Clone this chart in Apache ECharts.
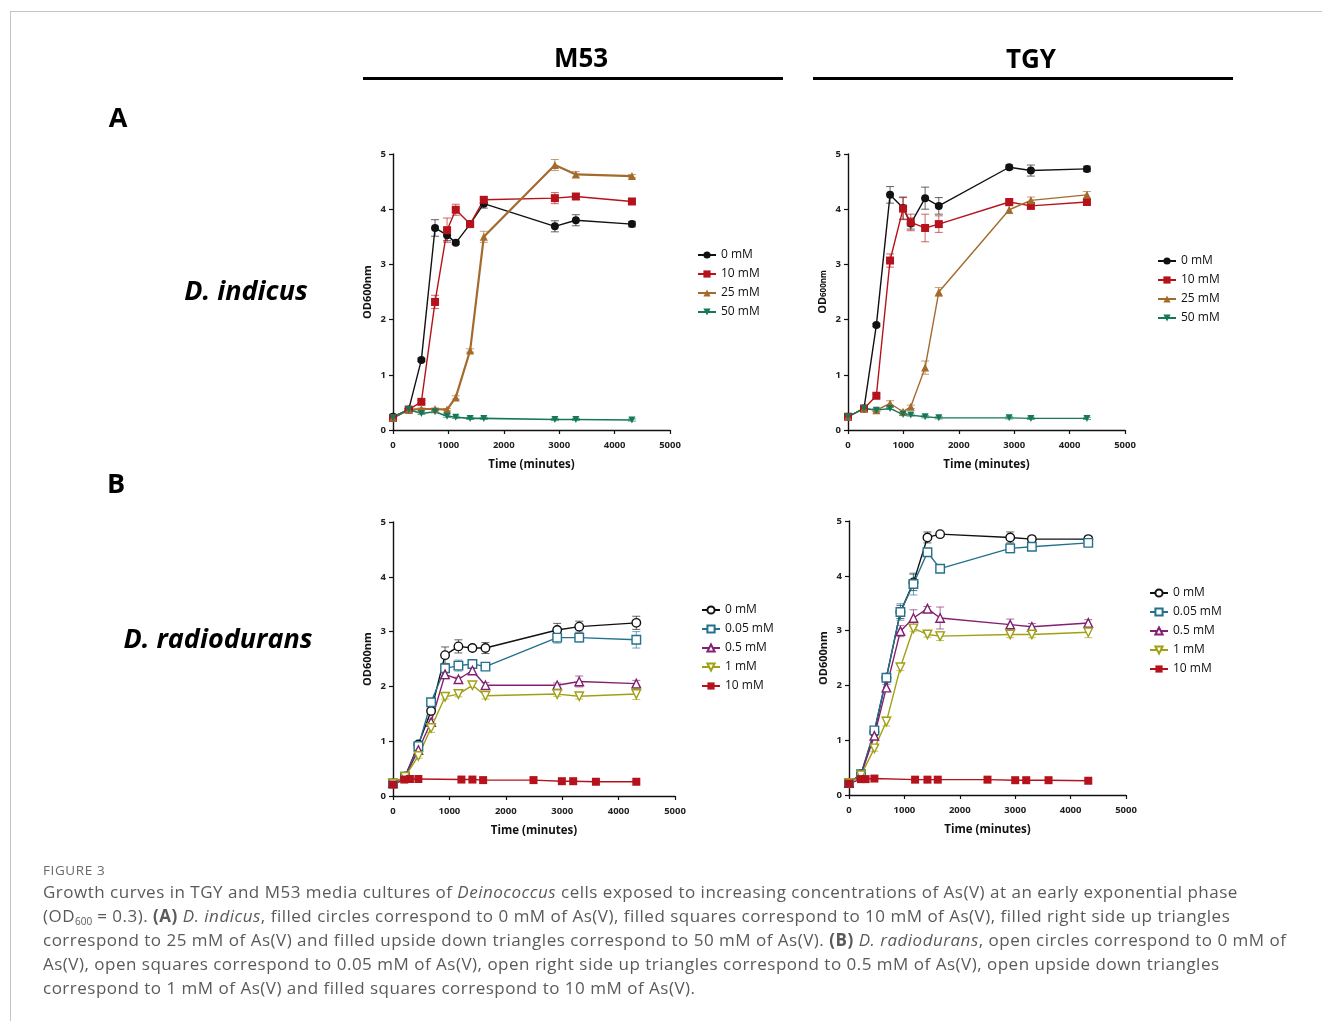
<!DOCTYPE html>
<html>
<head>
<meta charset="utf-8">
<script src="https://cdn.jsdelivr.net/npm/echarts@6/dist/echarts.min.js"></script>
<style>
  html, body { margin: 0; padding: 0; background: #fff; }
  #wrap { position: relative; width: 1322px; height: 1021px; overflow: hidden; }
  #chart { position: absolute; left: 0; top: 0; width: 1322px; height: 1021px; }
  #frameTop { position: absolute; left: 10px; top: 11px; width: 1312px; height: 0; border-top: 1px solid #c4c4c4; }
  #frameLeft { position: absolute; left: 10px; top: 11px; width: 0; height: 1010px; border-left: 1px solid #c4c4c4; }
  #cap { position: absolute; left: 43px; top: 860px; font-family: "Open Sans", sans-serif; color: #5a5a5a; }
  #cap .fig { font-size: 13.5px; letter-spacing: 0.6px; color: #6a6a6a; line-height: 20px; }
  #cap .ln { font-size: 17px; line-height: 24px; white-space: nowrap; letter-spacing: 0.5px; }
  #cap sub { font-size: 10px; vertical-align: -3px; line-height: 0; letter-spacing: 0; }
</style>
</head>
<body>
<div id="wrap">
  <div id="chart"></div>
  <div id="frameTop"></div>
  <div id="frameLeft"></div>
  <div id="cap">
    <div class="fig">FIGURE 3</div>
    <div class="ln">Growth curves in TGY and M53 media cultures of <i>Deinococcus</i> cells exposed to increasing concentrations of As(V) at an early exponential phase</div>
    <div class="ln">(OD<sub>600</sub> = 0.3). <b>(A)</b> <i>D. indicus</i>, filled circles correspond to 0 mM of As(V), filled squares correspond to 10 mM of As(V), filled right side up triangles</div>
    <div class="ln">correspond to 25 mM of As(V) and filled upside down triangles correspond to 50 mM of As(V). <b>(B)</b> <i>D. radiodurans</i>, open circles correspond to 0 mM of</div>
    <div class="ln">As(V), open squares correspond to 0.05 mM of As(V), open right side up triangles correspond to 0.5 mM of As(V), open upside down triangles</div>
    <div class="ln">correspond to 1 mM of As(V) and filled squares correspond to 10 mM of As(V).</div>
  </div>
</div>
<script>
// ---------------- DATA ----------------
// Panel A, D. indicus, M53 medium
const timeIndM53 = [0, 283, 512, 759, 976, 1133, 1392, 1639, 2922, 3301, 4313];
const indM53_0mM  = [0.24, 0.37, 1.27, 3.66, 3.53, 3.39, 3.73, 4.10, 3.69, 3.80, 3.73];
const indM53_10mM = [0.22, 0.37, 0.51, 2.32, 3.62, 3.99, 3.73, 4.17, 4.20, 4.23, 4.14];
const indM53_25mM = [0.22, 0.37, 0.38, 0.38, 0.37, 0.59, 1.44, 3.50, 4.80, 4.63, 4.60];
const indM53_50mM = [0.22, 0.37, 0.30, 0.33, 0.25, 0.23, 0.21, 0.21, 0.19, 0.19, 0.18];
const indM53_0mM_err  = [0.02, 0.02, 0.03, 0.15, 0.10, 0.03, 0.04, 0.08, 0.10, 0.10, 0.05];
const indM53_10mM_err = [0.02, 0.02, 0.03, 0.12, 0.22, 0.10, 0.04, 0.05, 0.10, 0.05, 0.04];
const indM53_25mM_err = [0.02, 0.02, 0.02, 0.02, 0.02, 0.03, 0.03, 0.10, 0.10, 0.05, 0.03];
const indM53_50mM_err = [0.02, 0.02, 0.02, 0.02, 0.02, 0.02, 0.02, 0.02, 0.02, 0.02, 0.02];

// Panel A, D. indicus, TGY medium
const timeIndTGY = [0, 289, 512, 759, 994, 1133, 1392, 1639, 2910, 3301, 4313];
const indTGY_0mM  = [0.24, 0.39, 1.90, 4.26, 4.02, 3.74, 4.20, 4.06, 4.76, 4.70, 4.73];
const indTGY_10mM = [0.24, 0.39, 0.62, 3.07, 4.01, 3.76, 3.66, 3.73, 4.13, 4.06, 4.13];
const indTGY_25mM = [0.24, 0.39, 0.36, 0.48, 0.33, 0.42, 1.13, 2.50, 3.99, 4.16, 4.26];
const indTGY_50mM = [0.24, 0.39, 0.36, 0.39, 0.28, 0.27, 0.24, 0.22, 0.22, 0.21, 0.21];
const indTGY_0mM_err  = [0.02, 0.02, 0.03, 0.15, 0.20, 0.10, 0.20, 0.15, 0.04, 0.10, 0.05];
const indTGY_10mM_err = [0.02, 0.02, 0.03, 0.12, 0.20, 0.15, 0.25, 0.15, 0.04, 0.05, 0.04];
const indTGY_25mM_err = [0.02, 0.02, 0.03, 0.05, 0.03, 0.03, 0.12, 0.08, 0.07, 0.06, 0.06];
const indTGY_50mM_err = [0.02, 0.02, 0.02, 0.02, 0.02, 0.02, 0.02, 0.02, 0.02, 0.02, 0.02];

// Panel B, D. radiodurans, M53 medium
const timeRadM53 = [0, 213, 450, 675, 923, 1160, 1408, 1639, 2911, 3302, 4314];
const radM53_0mM   = [0.23, 0.35, 0.94, 1.55, 2.57, 2.73, 2.70, 2.70, 3.03, 3.09, 3.16];
const radM53_005mM = [0.23, 0.35, 0.91, 1.71, 2.33, 2.38, 2.41, 2.36, 2.89, 2.89, 2.85];
const radM53_05mM  = [0.23, 0.35, 0.84, 1.35, 2.22, 2.13, 2.29, 2.02, 2.02, 2.09, 2.05];
const radM53_1mM   = [0.23, 0.35, 0.73, 1.24, 1.81, 1.86, 2.02, 1.83, 1.86, 1.82, 1.86];
const radM53_0mM_err   = [0.02, 0.03, 0.04, 0.05, 0.15, 0.12, 0.04, 0.10, 0.12, 0.10, 0.12];
const radM53_005mM_err = [0.02, 0.03, 0.04, 0.05, 0.05, 0.10, 0.04, 0.04, 0.10, 0.08, 0.15];
const radM53_05mM_err  = [0.02, 0.03, 0.04, 0.05, 0.08, 0.04, 0.06, 0.05, 0.04, 0.10, 0.06];
const radM53_1mM_err   = [0.02, 0.03, 0.04, 0.08, 0.04, 0.05, 0.04, 0.06, 0.04, 0.05, 0.10];
const timeRadM53_10mM = [0, 200, 300, 450, 1213, 1408, 1598, 2491, 2994, 3195, 3598, 4314];
const radM53_10mM     = [0.21, 0.30, 0.31, 0.31, 0.30, 0.30, 0.29, 0.29, 0.27, 0.27, 0.26, 0.26];

// Panel B, D. radiodurans, TGY medium
const timeRadTGY = [0, 217, 458, 675, 928, 1163, 1416, 1645, 2910, 3301, 4319];
const radTGY_0mM   = [0.22, 0.38, 1.15, 2.14, 3.34, 3.88, 4.70, 4.76, 4.70, 4.67, 4.67];
const radTGY_005mM = [0.22, 0.38, 1.18, 2.14, 3.34, 3.85, 4.43, 4.13, 4.50, 4.53, 4.60];
const radTGY_05mM  = [0.22, 0.37, 1.08, 1.96, 2.99, 3.23, 3.40, 3.23, 3.11, 3.07, 3.14];
const radTGY_1mM   = [0.22, 0.36, 0.85, 1.34, 2.33, 3.04, 2.93, 2.90, 2.93, 2.93, 2.97];
const radTGY_0mM_err   = [0.02, 0.03, 0.05, 0.06, 0.12, 0.15, 0.10, 0.04, 0.10, 0.05, 0.05];
const radTGY_005mM_err = [0.02, 0.03, 0.05, 0.06, 0.15, 0.20, 0.06, 0.04, 0.08, 0.05, 0.06];
const radTGY_05mM_err  = [0.02, 0.03, 0.05, 0.06, 0.10, 0.15, 0.04, 0.20, 0.10, 0.06, 0.06];
const radTGY_1mM_err   = [0.02, 0.03, 0.05, 0.08, 0.06, 0.05, 0.05, 0.08, 0.06, 0.06, 0.10];
const timeRadTGY_10mM = [0, 217, 300, 458, 1193, 1416, 1602, 2500, 3000, 3199, 3602, 4319];
const radTGY_10mM     = [0.21, 0.29, 0.29, 0.30, 0.28, 0.28, 0.28, 0.28, 0.27, 0.27, 0.27, 0.26];

// Labels
const xTickValues = [0, 1000, 2000, 3000, 4000, 5000];
const yTickValues = [0, 1, 2, 3, 4, 5];
const legendA = ['0 mM', '10 mM', '25 mM', '50 mM'];
const legendB = ['0 mM', '0.05 mM', '0.5 mM', '1 mM', '10 mM'];
const columnTitles = ['M53', 'TGY'];
const rowLabels = ['A', 'B'];
const species = ['D. indicus', 'D. radiodurans'];

// ---------------- STYLES ----------------
const C = {
  black: '#111111', red: '#b5121b', brown: '#a36a2c', green: '#16775a',
  teal: '#23718c', purple: '#832070', olive: '#a0a014'
};
const FONT = '"Open Sans", "DejaVu Sans", sans-serif';
const panelKeys = ['AM', 'AT', 'BM', 'BT'];

// grid geometry (px)
const grids = [
  { left: 393, top: 154, width: 277, height: 276 },
  { left: 848, top: 154, width: 277, height: 276 },
  { left: 393, top: 522, width: 282, height: 274 },
  { left: 849, top: 521, width: 277, height: 274 }
];

function mkAxes(gi, yName) {
  const x = {
    type: 'value', gridIndex: gi, min: 0, max: 5000, interval: 1000,
    name: 'Time (minutes)', nameLocation: 'middle', nameGap: 29,
    nameTextStyle: { fontFamily: FONT, fontWeight: 'bold', fontSize: 11.5, color: '#111' },
    axisLine: { show: true, onZero: false, lineStyle: { color: '#111', width: 1.4 } },
    axisTick: { show: true, length: 4, lineStyle: { color: '#111', width: 1.2 } },
    axisLabel: { fontFamily: FONT, fontWeight: 'bold', fontSize: 9.5, color: '#222', margin: 10,
      formatter: v => xTickValues.indexOf(v) >= 0 ? String(v) : '' },
    splitLine: { show: false }
  };
  const y = {
    type: 'value', gridIndex: gi, min: 0, max: 5, interval: 1,
    name: yName, nameLocation: 'middle', nameGap: 20, nameRotate: 90,
    nameTextStyle: { fontFamily: FONT, fontWeight: 'bold', fontSize: 11, color: '#111',
      rich: { a: { fontFamily: FONT, fontWeight: 'bold', fontSize: 11, color: '#111' },
              b: { fontFamily: FONT, fontWeight: 'bold', fontSize: 8, color: '#111', padding: [3, 0, 0, 0] } } },
    axisLine: { show: true, onZero: false, lineStyle: { color: '#111', width: 1.4 } },
    axisTick: { show: true, length: 4, lineStyle: { color: '#111', width: 1.2 } },
    axisLabel: { fontFamily: FONT, fontWeight: 'bold', fontSize: 9.5, color: '#222', margin: 7,
      formatter: v => yTickValues.indexOf(v) >= 0 ? String(v) : '' },
    splitLine: { show: false }
  };
  return { x, y };
}

const series = [];
function addLine(gi, name, times, vals, color, symbol, open, size, lw) {
  series.push({
    type: 'line', name: panelKeys[gi] + '|' + name, xAxisIndex: gi, yAxisIndex: gi,
    data: times.map((t, i) => [t, vals[i]]),
    symbol: symbol, symbolSize: size, showSymbol: true,
    lineStyle: { color: color, width: lw },
    itemStyle: open ? { color: '#ffffff', borderColor: color, borderWidth: 1.4 } : { color: color, borderColor: color, borderWidth: 0 },
    z: 3, animation: false
  });
}
function addErr(gi, times, vals, errs, color) {
  series.push({
    type: 'custom', xAxisIndex: gi, yAxisIndex: gi, z: 2, silent: true, animation: false,
    data: times.map((t, i) => [t, vals[i] - errs[i], vals[i] + errs[i]]),
    renderItem: function (params, api) {
      const lo = api.coord([api.value(0), api.value(1)]);
      const hi = api.coord([api.value(0), api.value(2)]);
      const w = 4;
      const st = { stroke: color, lineWidth: 1, opacity: 0.65 };
      return { type: 'group', children: [
        { type: 'line', shape: { x1: lo[0], y1: lo[1], x2: hi[0], y2: hi[1] }, style: st },
        { type: 'line', shape: { x1: lo[0] - w, y1: lo[1], x2: lo[0] + w, y2: lo[1] }, style: st },
        { type: 'line', shape: { x1: hi[0] - w, y1: hi[1], x2: hi[0] + w, y2: hi[1] }, style: st }
      ]};
    }
  });
}
const TRI_DOWN = 'path://M0,0 L10,0 L5,9 Z';

// Panel A M53
addErr(0, timeIndM53, indM53_0mM, indM53_0mM_err, C.black);
addErr(0, timeIndM53, indM53_10mM, indM53_10mM_err, C.red);
addErr(0, timeIndM53, indM53_25mM, indM53_25mM_err, C.brown);
addErr(0, timeIndM53, indM53_50mM, indM53_50mM_err, C.green);
addLine(0, legendA[0], timeIndM53, indM53_0mM, C.black, 'circle', false, 8, 1.4);
addLine(0, legendA[1], timeIndM53, indM53_10mM, C.red, 'rect', false, 8, 1.4);
addLine(0, legendA[2], timeIndM53, indM53_25mM, C.brown, 'triangle', false, 8, 2.2);
addLine(0, legendA[3], timeIndM53, indM53_50mM, C.green, TRI_DOWN, false, 7, 1.6);
// Panel A TGY
addErr(1, timeIndTGY, indTGY_0mM, indTGY_0mM_err, C.black);
addErr(1, timeIndTGY, indTGY_10mM, indTGY_10mM_err, C.red);
addErr(1, timeIndTGY, indTGY_25mM, indTGY_25mM_err, C.brown);
addErr(1, timeIndTGY, indTGY_50mM, indTGY_50mM_err, C.green);
addLine(1, legendA[0], timeIndTGY, indTGY_0mM, C.black, 'circle', false, 8, 1.4);
addLine(1, legendA[1], timeIndTGY, indTGY_10mM, C.red, 'rect', false, 8, 1.4);
addLine(1, legendA[2], timeIndTGY, indTGY_25mM, C.brown, 'triangle', false, 8, 1.4);
addLine(1, legendA[3], timeIndTGY, indTGY_50mM, C.green, TRI_DOWN, false, 7, 1.4);
// Panel B M53
addErr(2, timeRadM53, radM53_0mM, radM53_0mM_err, C.black);
addErr(2, timeRadM53, radM53_005mM, radM53_005mM_err, C.teal);
addErr(2, timeRadM53, radM53_05mM, radM53_05mM_err, C.purple);
addErr(2, timeRadM53, radM53_1mM, radM53_1mM_err, C.olive);
addLine(2, legendB[0], timeRadM53, radM53_0mM, C.black, 'circle', true, 8.5, 1.4);
addLine(2, legendB[1], timeRadM53, radM53_005mM, C.teal, 'rect', true, 8.5, 1.4);
addLine(2, legendB[2], timeRadM53, radM53_05mM, C.purple, 'triangle', true, 8.5, 1.4);
addLine(2, legendB[3], timeRadM53, radM53_1mM, C.olive, TRI_DOWN, true, 8.5, 1.4);
addLine(2, legendB[4], timeRadM53_10mM, radM53_10mM, C.red, 'rect', false, 8, 1.4);
// Panel B TGY
addErr(3, timeRadTGY, radTGY_0mM, radTGY_0mM_err, C.black);
addErr(3, timeRadTGY, radTGY_005mM, radTGY_005mM_err, C.teal);
addErr(3, timeRadTGY, radTGY_05mM, radTGY_05mM_err, C.purple);
addErr(3, timeRadTGY, radTGY_1mM, radTGY_1mM_err, C.olive);
addLine(3, legendB[0], timeRadTGY, radTGY_0mM, C.black, 'circle', true, 8.5, 1.4);
addLine(3, legendB[1], timeRadTGY, radTGY_005mM, C.teal, 'rect', true, 8.5, 1.4);
addLine(3, legendB[2], timeRadTGY, radTGY_05mM, C.purple, 'triangle', true, 8.5, 1.4);
addLine(3, legendB[3], timeRadTGY, radTGY_1mM, C.olive, TRI_DOWN, true, 8.5, 1.4);
addLine(3, legendB[4], timeRadTGY_10mM, radTGY_10mM, C.red, 'rect', false, 8, 1.4);

const axes = [mkAxes(0, 'OD600nm'), mkAxes(1, '{a|OD}{b|600nm}'), mkAxes(2, 'OD600nm'), mkAxes(3, 'OD600nm')];

function legendAt(gi, left, top, names) {
  return {
    show: true, orient: 'vertical', left: left, top: top, itemGap: 7,
    itemWidth: 18, itemHeight: 9, padding: 0,
    data: names.map(n => ({ name: panelKeys[gi] + '|' + n })),
    formatter: function (nm) { return nm.split('|')[1]; },
    textStyle: { fontFamily: FONT, fontSize: 12, color: '#111' },
    selectedMode: false
  };
}

const option = {
  animation: false,
  backgroundColor: '#ffffff',
  grid: grids.map(g => Object.assign({ containLabel: false }, g)),
  xAxis: axes.map(a => a.x),
  yAxis: axes.map(a => a.y),
  legend: [
    legendAt(0, 697, 249, legendA),
    legendAt(1, 1157, 255, legendA),
    legendAt(2, 701, 604, legendB),
    legendAt(3, 1149, 587, legendB)
  ],
  series: series,
  graphic: [
    { type: 'text', x: 581, y: 60, style: { text: columnTitles[0], font: 'bold 26px ' + FONT, fill: '#000', textAlign: 'center', textVerticalAlign: 'middle' } },
    { type: 'text', x: 1031, y: 61, style: { text: columnTitles[1], font: 'bold 26px ' + FONT, fill: '#000', textAlign: 'center', textVerticalAlign: 'middle' } },
    { type: 'rect', shape: { x: 363, y: 77, width: 420, height: 3 }, style: { fill: '#000' } },
    { type: 'rect', shape: { x: 813, y: 77, width: 420, height: 3 }, style: { fill: '#000' } },
    { type: 'text', x: 118, y: 119, style: { text: rowLabels[0], font: 'bold 27px ' + FONT, fill: '#000', textAlign: 'center', textVerticalAlign: 'middle' } },
    { type: 'text', x: 116, y: 485, style: { text: rowLabels[1], font: 'bold 27px ' + FONT, fill: '#000', textAlign: 'center', textVerticalAlign: 'middle' } },
    { type: 'text', x: 246, y: 292, style: { text: species[0], font: 'italic bold 27px ' + FONT, fill: '#000', textAlign: 'center', textVerticalAlign: 'middle' } },
    { type: 'text', x: 218, y: 640, style: { text: species[1], font: 'italic bold 27px ' + FONT, fill: '#000', textAlign: 'center', textVerticalAlign: 'middle' } }
  ]
};

const chart = echarts.init(document.getElementById('chart'), null, { renderer: 'canvas' });
chart.setOption(option);
</script>
</body>
</html>
